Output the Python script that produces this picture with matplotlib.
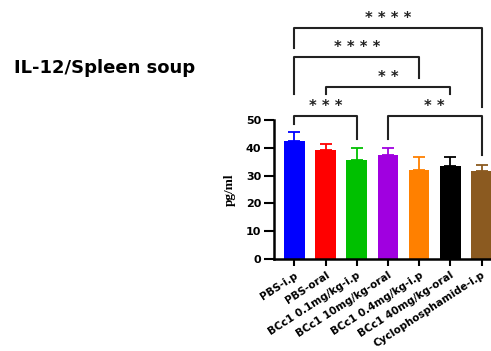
import numpy as np
import matplotlib
matplotlib.use('Agg')
import matplotlib.pyplot as plt

plt.rcParams['font.family'] = ['DejaVu Sans']

groups = ['PBS-i.p', 'PBS-oral', 'BCc1 0.1mg/kg-i.p', 'BCc1 10mg/kg-oral',
          'BCc1 0.4mg/kg-i.p', 'BCc1 40mg/kg-oral', 'Cyclophosphamide-i.p']
means = [42.4, 39.3, 35.5, 37.3, 32.0, 33.5, 31.5]
errs = [3.2, 2.2, 4.3, 2.5, 4.8, 3.2, 2.5]
colors = ['#0000ff', '#ff0000', '#00c000', '#a000e0', '#ff8000', '#000000', '#8b5a20']

# significance brackets: (i, j, bar height, left leg end, right leg end, stars, text height)
brackets = [
    (0, 2, 51.5, 48.6, 43.2, '***', 54.8),
    (3, 6, 51.5, 43.2, 37.4, '**', 54.8),
    (1, 5, 62.0, 59.2, 59.2, '**', 65.4),
    (0, 4, 72.6, 59.2, 65.2, '****', 76.0),
    (0, 6, 83.0, 76.0, 54.8, '****', 86.6),
]

fig = plt.figure(figsize=(4.91, 3.51), dpi=100)
ax = fig.add_axes([0.558, 0.262, 0.442, 0.396])

x = np.arange(len(groups))
ax.bar(x, means, width=0.66, color=colors, linewidth=0)
for xi, m, e, c in zip(x, means, errs, colors):
    ax.errorbar(xi, m, yerr=[[0], [e]], color=c, capsize=4, elinewidth=1.3, capthick=1.3)

ax.set_xlim(-0.65, 6.3)
ax.set_ylim(0, 50)
ax.set_yticks([0, 10, 20, 30, 40, 50])
ax.set_xticks(x)
ax.set_xticklabels(groups, rotation=33, ha='right', rotation_mode='anchor',
                   fontsize=7.5, fontweight='bold')
for lab in ax.get_yticklabels():
    lab.set_fontweight('bold')
    lab.set_fontsize(8)
ax.tick_params(axis='y', length=7, width=1.5, pad=2)
ax.tick_params(axis='x', length=5, width=1.5, pad=3)
ax.spines['top'].set_visible(False)
ax.spines['right'].set_visible(False)
ax.spines['left'].set_linewidth(1.8)
ax.spines['bottom'].set_linewidth(1.8)
ax.set_ylabel('pg/ml', family='Liberation Serif', fontsize=9.5, fontweight='bold', labelpad=7)

for i, j, h, l1, l2, s, th in brackets:
    ax.plot([i, i, j, j], [l1, h, h, l2], color='#222222', lw=1.5, clip_on=False)
    ax.text((i + j) / 2, th, ' '.join(s), ha='center', va='center', fontsize=10.5,
            fontweight='bold', color='#222222', clip_on=False)

fig.text(0.029, 0.806, 'IL-12/Spleen soup', fontsize=13, fontweight='bold', va='center')

fig.savefig('out.png', dpi=100)
